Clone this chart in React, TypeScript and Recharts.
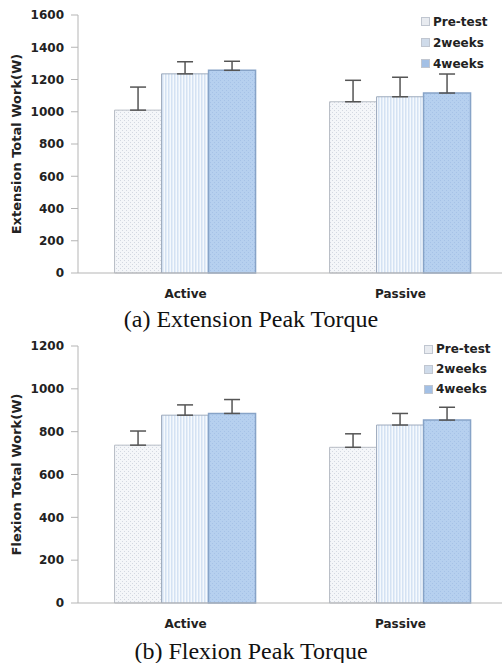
import { BarChart, Bar, XAxis, YAxis, ErrorBar } from 'recharts'

const categories = ['Active', 'Passive']
const seriesNames = ['Pre-test', '2weeks', '4weeks']

const extPre = [1010, 1062]
const extPreErr = [143, 133]
const ext2w = [1235, 1093]
const ext2wErr = [75, 121]
const ext4w = [1257, 1116]
const ext4wErr = [56, 118]
const extTicks = [0, 200, 400, 600, 800, 1000, 1200, 1400, 1600]

const flexPre = [737, 727]
const flexPreErr = [66, 63]
const flex2w = [877, 831]
const flex2wErr = [48, 54]
const flex4w = [885, 854]
const flex4wErr = [65, 60]
const flexTicks = [0, 200, 400, 600, 800, 1000, 1200]

const font = '"DejaVu Sans", sans-serif'

function build(pre: number[], preErr: number[], w2: number[], w2Err: number[], w4: number[], w4Err: number[]) {
  return categories.map((name, i) => ({
    name,
    pre: pre[i],
    preErr: [0, preErr[i]],
    w2: w2[i],
    w2Err: [0, w2Err[i]],
    w4: w4[i],
    w4Err: [0, w4Err[i]],
  }))
}

const swatch = ['#e8ebf0', '#cfdbea', '#a3c0e5']

function LegendBox({ top, left, rowH }: { top: number; left: number; rowH: number }) {
  return (
    <div style={{ position: 'absolute', top, left, fontFamily: font, fontWeight: 'bold', fontSize: 12, color: '#222' }}>
      {seriesNames.map((s, i) => (
        <div key={s} style={{ display: 'flex', alignItems: 'center', height: rowH }}>
          <span style={{ width: 7, height: 7, background: swatch[i], border: '1px solid #c0c6d0', marginRight: 3 }} />
          {s}
        </div>
      ))}
    </div>
  )
}

function Patterns({ p }: { p: string }) {
  return (
    <defs>
      <pattern id={p + 'pre'} width="4" height="4" patternUnits="userSpaceOnUse">
        <rect width="4" height="4" fill="#f4f6f9" />
        <rect x="0" y="0" width="1" height="1" fill="#d3d8e1" />
        <rect x="2" y="2" width="1" height="1" fill="#d3d8e1" />
      </pattern>
      <pattern id={p + 'w2'} width="3" height="4" patternUnits="userSpaceOnUse">
        <rect width="3" height="4" fill="#f5f9fd" />
        <rect x="0" y="0" width="1.5" height="4" fill="#d4e2f3" />
      </pattern>
      <pattern id={p + 'w4'} width="4" height="4" patternUnits="userSpaceOnUse">
        <rect width="4" height="4" fill="#b6d0ef" />
        <rect x="0" y="0" width="1" height="1" fill="#a6c2e7" />
        <rect x="2" y="2" width="1" height="1" fill="#a6c2e7" />
      </pattern>
    </defs>
  )
}

function Panel(props: {
  id: string
  data: ReturnType<typeof build>
  ticks: number[]
  yLabel: string
  height: number
  top: number
  legendTop: number
  legendLeft: number
  rowH: number
}) {
  const { id, data, ticks, yLabel, height, top, legendTop, legendLeft, rowH } = props
  return (
    <div style={{ position: 'relative', width: 508, height }}>
      <BarChart
        width={508}
        height={height}
        data={data}
        margin={{ top, right: 0, bottom: 0, left: 0 }}
        barCategoryGap="17%"
        barGap={0}
      >
        <Patterns p={id} />
        <XAxis
          dataKey="name"
          height={30}
          tickLine={false}
          axisLine={{ stroke: '#b5b5b5' }}
          tickMargin={10}
          tick={{ fill: '#222', fontSize: 12, fontWeight: 'bold', fontFamily: font }}
        />
        <YAxis
          width={78}
          domain={[0, ticks[ticks.length - 1]]}
          ticks={ticks}
          interval={0}
          tickSize={7}
          tickMargin={7}
          axisLine={{ stroke: '#b5b5b5' }}
          tickLine={{ stroke: '#b5b5b5' }}
          tick={{ fill: '#222', fontSize: 12, fontWeight: 'bold', fontFamily: font }}
          label={{
            value: yLabel,
            angle: -90,
            position: 'insideLeft',
            offset: 16,
            style: { textAnchor: 'middle', fill: '#222', fontSize: 13, fontWeight: 'bold', fontFamily: font },
          }}
        />
        <Bar dataKey="pre" name={seriesNames[0]} fill={`url(#${id}pre)`} stroke="#b7bcc5" strokeWidth={1} isAnimationActive={false}>
          <ErrorBar dataKey="preErr" direction="y" width={8} stroke="#555" strokeWidth={1.5} />
        </Bar>
        <Bar dataKey="w2" name={seriesNames[1]} fill={`url(#${id}w2)`} stroke="#9eabbd" strokeWidth={1} isAnimationActive={false}>
          <ErrorBar dataKey="w2Err" direction="y" width={8} stroke="#555" strokeWidth={1.5} />
        </Bar>
        <Bar dataKey="w4" name={seriesNames[2]} fill={`url(#${id}w4)`} stroke="#87a3c7" strokeWidth={1.5} isAnimationActive={false}>
          <ErrorBar dataKey="w4Err" direction="y" width={8} stroke="#555" strokeWidth={1.5} />
        </Bar>
      </BarChart>
      <LegendBox top={legendTop} left={legendLeft} rowH={rowH} />
    </div>
  )
}

const caption = {
  fontFamily: '"Liberation Serif", "Times New Roman", serif',
  fontSize: 24,
  color: '#111',
  textAlign: 'center' as const,
  width: 502,
}

export default function App() {
  const extData = build(extPre, extPreErr, ext2w, ext2wErr, ext4w, ext4wErr)
  const flexData = build(flexPre, flexPreErr, flex2w, flex2wErr, flex4w, flex4wErr)
  return (
    <div style={{ position: 'absolute', top: 0, left: 0, width: 502, height: 663, overflow: 'hidden', background: '#fff' }}>
      <Panel id="ext" data={extData} ticks={extTicks} yLabel="Extension Total Work(W)" height={303} top={15}
        legendTop={11} legendLeft={421} rowH={21} />
      <div style={{ ...caption, height: 32, lineHeight: '32px' }}>(a) Extension Peak Torque</div>
      <Panel id="flex" data={flexData} ticks={flexTicks} yLabel="Flexion Total Work(W)" height={298} top={11}
        legendTop={4} legendLeft={424} rowH={20} />
      <div style={{ ...caption, height: 36, lineHeight: '36px' }}>(b) Flexion Peak Torque</div>
    </div>
  )
}
